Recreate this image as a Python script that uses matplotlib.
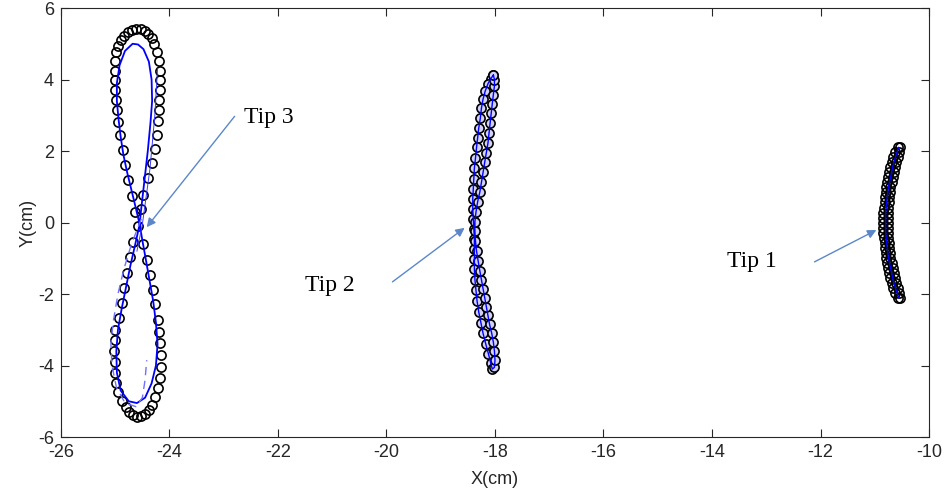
"""
Trajectories of three tips in the X-Y plane, measured points (circles)
against the fitted paths (blue lines).
"""

import matplotlib

matplotlib.use("Agg")
import matplotlib.pyplot as plt

# ---- Tip 3: figure-eight, measured points ----
tip3_x = [
    -24.58, -24.64, -24.69, -24.77, -24.82, -24.86, -24.91, -24.95,
    -24.97, -24.99, -25.01, -25.01, -25.01, -25.00, -24.98, -24.94,
    -24.89, -24.83, -24.76, -24.69, -24.61, -24.53, -24.46, -24.39,
    -24.33, -24.28, -24.23, -24.20, -24.18, -24.18, -24.18, -24.19,
    -24.20, -24.21, -24.23, -24.27, -24.32, -24.40, -24.49, -24.52,
    -24.67, -24.73, -24.78, -24.84, -24.88, -24.93, -25.00, -25.01,
    -25.02, -25.01, -25.00, -24.98, -24.94, -24.88, -24.81, -24.74,
    -24.67, -24.60, -24.52, -24.45, -24.38, -24.32, -24.26, -24.21,
    -24.18, -24.16, -24.16, -24.18, -24.20, -24.22, -24.27, -24.31,
    -24.36, -24.42, -24.49,
]
tip3_y = [
    -0.10, 0.29, 0.74, 1.19, 1.61, 2.03, 2.45, 2.81,
    3.15, 3.43, 3.70, 3.98, 4.25, 4.52, 4.76, 4.95,
    5.10, 5.22, 5.32, 5.38, 5.42, 5.41, 5.36, 5.27,
    5.15, 4.98, 4.76, 4.52, 4.25, 3.98, 3.70, 3.43,
    3.15, 2.84, 2.45, 2.06, 1.66, 1.24, 0.77, 0.38,
    -0.55, -0.97, -1.41, -1.83, -2.25, -2.67, -3.00, -3.30,
    -3.60, -3.90, -4.20, -4.48, -4.75, -4.98, -5.17, -5.30,
    -5.38, -5.43, -5.42, -5.36, -5.25, -5.10, -4.88, -4.63,
    -4.35, -4.04, -3.71, -3.37, -3.06, -2.72, -2.28, -1.89,
    -1.47, -1.05, -0.60,
]

# ---- Tip 3: fitted path (solid blue) ----
tip3_fit_x = [
    -24.55, -24.62, -24.70, -24.78, -24.85, -24.90, -24.94, -24.97,
    -24.97, -24.92, -24.82, -24.68, -24.58, -24.48, -24.38, -24.33,
    -24.32, -24.35, -24.40, -24.46, -24.52, -24.55, -24.63, -24.72,
    -24.80, -24.88, -24.95, -24.98, -24.97, -24.90, -24.75, -24.60,
    -24.45, -24.33, -24.25, -24.22, -24.25, -24.30, -24.37, -24.44,
    -24.50, -24.55,
]
tip3_fit_y = [
    -0.05, 0.40, 0.90, 1.40, 1.90, 2.40, 2.90, 3.40,
    3.90, 4.40, 4.80, 5.00, 4.98, 4.85, 4.50, 4.00,
    3.40, 2.80, 2.00, 1.20, 0.40, -0.05, -0.60, -1.20,
    -1.80, -2.40, -3.00, -3.60, -4.20, -4.70, -5.00, -5.05,
    -4.90, -4.50, -4.00, -3.40, -2.80, -2.20, -1.60, -1.00,
    -0.50, -0.05,
]

# ---- Tip 3: reference paths (thin solid and dashed) ----
tip3_thin_x = [-24.22, -24.27, -24.36, -24.50, -24.60]
tip3_thin_y = [4.30, 3.00, 1.50, -0.05, -0.80]
tip3_dash_x = [
    -24.52, -24.70, -24.84, -24.95, -25.04, -25.08, -25.06, -24.98,
    -24.82, -24.62, -24.50, -24.45, -24.42,
]
tip3_dash_y = [
    0.10, -0.60, -1.30, -2.00, -2.80, -3.40, -4.00, -4.60,
    -5.05, -5.15, -4.90, -4.40, -3.85,
]

# ---- Tip 2: thin crescent loop ----
tip2_x = [
    -18.03, -18.08, -18.13, -18.18, -18.22, -18.25, -18.27, -18.30,
    -18.32, -18.34, -18.36, -18.38, -18.39, -18.40, -18.41, -18.41,
    -18.40, -18.39, -18.38, -18.38, -18.38, -18.38, -18.37, -18.35,
    -18.33, -18.30, -18.26, -18.22, -18.17, -18.12, -18.08, -18.05,
    -18.01, -18.00, -18.01, -18.03, -18.06, -18.10, -18.13, -18.16,
    -18.19, -18.22, -18.25, -18.28, -18.31, -18.34, -18.36, -18.37,
    -18.37, -18.35, -18.32, -18.28, -18.25, -18.22, -18.19, -18.16,
    -18.13, -18.11, -18.09, -18.07, -18.05, -18.03, -18.01, -18.01,
    -18.03,
]
tip2_y = [
    4.12, 4.02, 3.88, 3.68, 3.45, 3.20, 2.92, 2.64,
    2.37, 2.10, 1.80, 1.52, 1.23, 0.95, 0.66, 0.38,
    0.10, -0.18, -0.46, -0.75, -1.03, -1.30, -1.60, -1.90,
    -2.20, -2.50, -2.80, -3.10, -3.40, -3.68, -3.92, -4.10,
    -4.05, -3.85, -3.60, -3.35, -3.10, -2.85, -2.60, -2.35,
    -2.10, -1.85, -1.60, -1.35, -1.08, -0.80, -0.52, -0.25,
    0.02, 0.30, 0.58, 0.85, 1.12, 1.40, 1.68, 1.95,
    2.22, 2.50, 2.78, 3.05, 3.32, 3.58, 3.82, 4.00,
    4.12,
]

# ---- Tip 1: short arc, two close branches ----
tip1_y = [
    2.10, 1.96, 1.82, 1.68, 1.54, 1.40, 1.26, 1.12, 0.98, 0.84, 0.70,
    0.56, 0.42, 0.28, 0.14, 0.00, -0.14, -0.28, -0.42, -0.56, -0.70,
    -0.84, -0.98, -1.12, -1.26, -1.40, -1.54, -1.68, -1.82, -1.96, -2.10,
]
tip1_x_left = [
    -10.58, -10.63, -10.66, -10.69, -10.71, -10.73, -10.75, -10.77, -10.79,
    -10.80, -10.81, -10.82, -10.83, -10.84, -10.84, -10.84, -10.84, -10.84,
    -10.83, -10.82, -10.81, -10.80, -10.79, -10.77, -10.75, -10.73, -10.71,
    -10.69, -10.66, -10.63, -10.58,
]
tip1_x_right = [
    -10.54, -10.55, -10.58, -10.61, -10.63, -10.65, -10.67, -10.69, -10.71,
    -10.72, -10.73, -10.74, -10.75, -10.76, -10.76, -10.76, -10.76, -10.76,
    -10.75, -10.74, -10.73, -10.72, -10.71, -10.69, -10.67, -10.65, -10.63,
    -10.61, -10.58, -10.55, -10.54,
]
tip1_x_fit = [
    -10.56, -10.59, -10.62, -10.65, -10.67, -10.69, -10.71, -10.73, -10.75,
    -10.76, -10.77, -10.78, -10.79, -10.80, -10.80, -10.80, -10.80, -10.80,
    -10.79, -10.78, -10.77, -10.76, -10.75, -10.73, -10.71, -10.69, -10.67,
    -10.65, -10.62, -10.59, -10.56,
]

# ---- Labels and arrows (text anchor, arrow tail, arrow head) ----
tip_labels = ["Tip 3", "Tip 2", "Tip 1"]
label_xy = [(-22.63, 2.95), (-21.51, -1.75), (-13.72, -1.10)]
arrow_tail = [(-22.80, 2.97), (-19.89, -1.66), (-12.11, -1.10)]
arrow_head = [(-24.42, -0.13), (-18.56, -0.15), (-10.97, -0.21)]

x_ticks = [-26, -24, -22, -20, -18, -16, -14, -12, -10]
y_ticks = [-6, -4, -2, 0, 2, 4, 6]


def main():
    plt.rcParams["font.family"] = ["Liberation Sans", "DejaVu Sans"]
    plt.rcParams["axes.unicode_minus"] = False

    fig = plt.figure(figsize=(9.47, 5.01), dpi=100)
    ax = fig.add_axes([0.0644, 0.1277, 0.9166, 0.8563])

    circle_style = dict(
        linestyle="none", marker="o", markersize=6.6,
        markeredgecolor="black", markeredgewidth=1.2,
    )

    # measured points
    ax.plot(tip3_x, tip3_y, markerfacecolor="none", **circle_style)
    ax.plot(tip2_x, tip2_y, markerfacecolor="#d2d2fa", **circle_style)
    ax.plot(tip1_x_left, tip1_y, markerfacecolor="none", **circle_style)
    ax.plot(tip1_x_right, tip1_y, markerfacecolor="none", **circle_style)

    # fitted / reference paths
    ax.plot(tip3_fit_x, tip3_fit_y, color="#0000ff", lw=1.3, zorder=3)
    ax.plot(tip3_thin_x, tip3_thin_y, color="#3a3aff", lw=0.7, zorder=3)
    ax.plot(tip3_dash_x, tip3_dash_y, color="#7070ff", lw=1.0,
            linestyle=(0, (6, 4)), zorder=3)
    ax.plot(tip2_x, tip2_y, color="#0000ff", lw=1.0, zorder=3)
    ax.plot(tip1_x_fit, tip1_y, color="#0000ff", lw=1.0, zorder=3)

    for label, xy, tail, head in zip(tip_labels, label_xy, arrow_tail, arrow_head):
        ax.text(xy[0], xy[1], label, family="Liberation Serif", fontsize=17,
                ha="left", va="center", color="black")
        ax.annotate(
            "", xy=head, xytext=tail,
            arrowprops=dict(arrowstyle="-|>", color="#5b87c9", lw=1.0,
                            mutation_scale=13, shrinkA=0, shrinkB=0),
        )

    ax.set_xlim(-26, -10)
    ax.set_ylim(-6, 6)
    ax.set_xticks(x_ticks)
    ax.set_yticks(y_ticks)
    ax.tick_params(direction="in", length=6, width=0.8, top=True, right=True,
                   labelsize=13, colors="#262626", pad=5)
    for spine in ax.spines.values():
        spine.set_color("#262626")
        spine.set_linewidth(0.8)

    ax.set_xlabel("X(cm)", fontsize=13, color="#262626", labelpad=7)
    ax.set_ylabel("Y(cm)", fontsize=13, color="#262626", labelpad=1)

    fig.savefig("out.png", dpi=100)
    plt.close(fig)


if __name__ == "__main__":
    main()
